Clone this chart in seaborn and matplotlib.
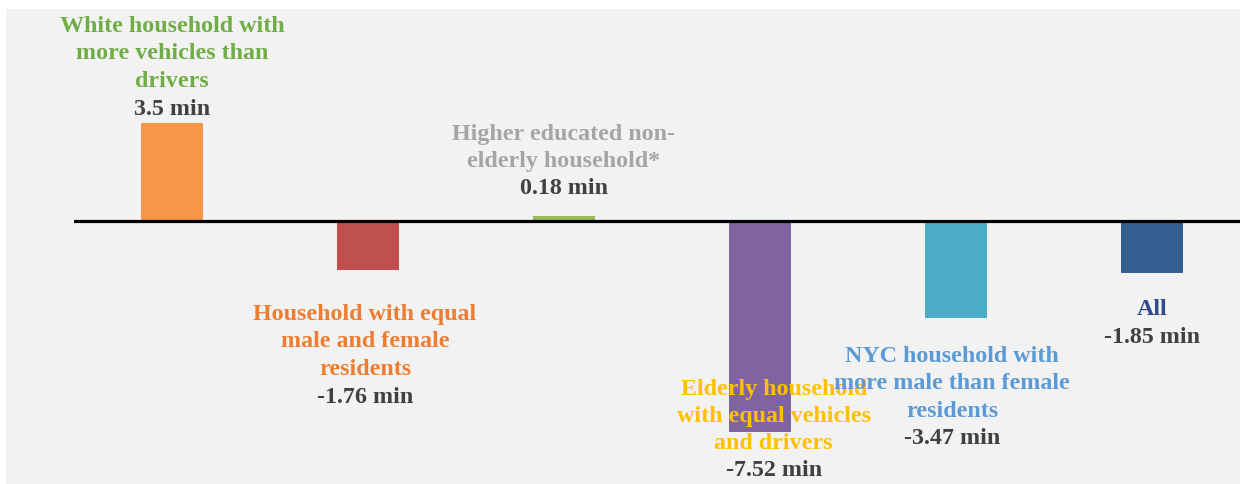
import numpy as np
import pandas as pd
import seaborn as sns
import matplotlib.pyplot as plt

# data
categories = [
    'White household with\nmore vehicles than\ndrivers',
    'Household with equal\nmale and female\nresidents',
    'Higher educated non-\nelderly household*',
    'Elderly household\nwith equal vehicles\nand drivers',
    'NYC household with\nmore male than female\nresidents',
    'All',
]
values = [3.5, -1.76, 0.18, -7.52, -3.47, -1.85]
value_labels = ['3.5 min', '-1.76 min', '0.18 min', '-7.52 min', '-3.47 min', '-1.85 min']

bar_colors = ['#F79646', '#C0504D', '#9BBB59', '#8064A2', '#4BACC6', '#365F91']
label_colors = ['#70AD47', '#ED7D31', '#A5A5A5', '#FFC000', '#5B9BD5', '#2F4B8C']

# text placement (data units): label block centre, value centre, x offset
label_y = [6.01, -4.28, 2.65, -6.95, -5.78, -3.14]
value_y = [4.01, -6.28, 1.19, -8.89, -7.74, -4.14]
x_off = [0, -0.015, 0, 0.07, -0.02, 0]

sns.set_style('white')
plt.rcParams['font.family'] = ['Liberation Serif', 'DejaVu Serif']

W, H = 1243, 485
ZERO, SCALE = 222, 28.0  # pixel row of zero line, pixels per minute
fig = plt.figure(figsize=(W / 100, H / 100), dpi=100, facecolor='white')

# grey chart area behind the plot
bg = fig.add_axes([6 / W, 0, (1240 - 6) / W, (H - 10) / H], zorder=-1)
bg.set_facecolor('#F2F2F2')
bg.set_xticks([])
bg.set_yticks([])
for s in bg.spines.values():
    s.set_visible(False)

ax = fig.add_axes([74 / W, 0, (1240 - 74) / W, 1])
ax.set_facecolor('none')

df = pd.DataFrame({'group': categories, 'value': values})
sns.barplot(data=df, x='group', y='value', hue='group', palette=bar_colors,
            width=0.316, legend=False, saturation=1, linewidth=0, ax=ax, zorder=2)

ax.axhline(0, color='black', lw=2.3, zorder=3)

for i in range(len(categories)):
    ax.text(i + x_off[i], label_y[i], categories[i], color=label_colors[i],
            ha='center', va='center', fontsize=17.3, fontweight='bold',
            linespacing=1.4, zorder=4)
    ax.text(i + x_off[i], value_y[i], value_labels[i], color='#404040',
            ha='center', va='center', fontsize=17.3, fontweight='bold', zorder=4)

ax.set_xlim(-0.5, (1240 - 172) / 196)
ax.set_ylim(-(H - ZERO) / SCALE, ZERO / SCALE)
ax.set_xticks([])
ax.set_yticks([])
ax.set_xlabel('')
ax.set_ylabel('')
sns.despine(ax=ax, left=True, bottom=True)

fig.savefig('out.png', dpi=100, facecolor='white')
